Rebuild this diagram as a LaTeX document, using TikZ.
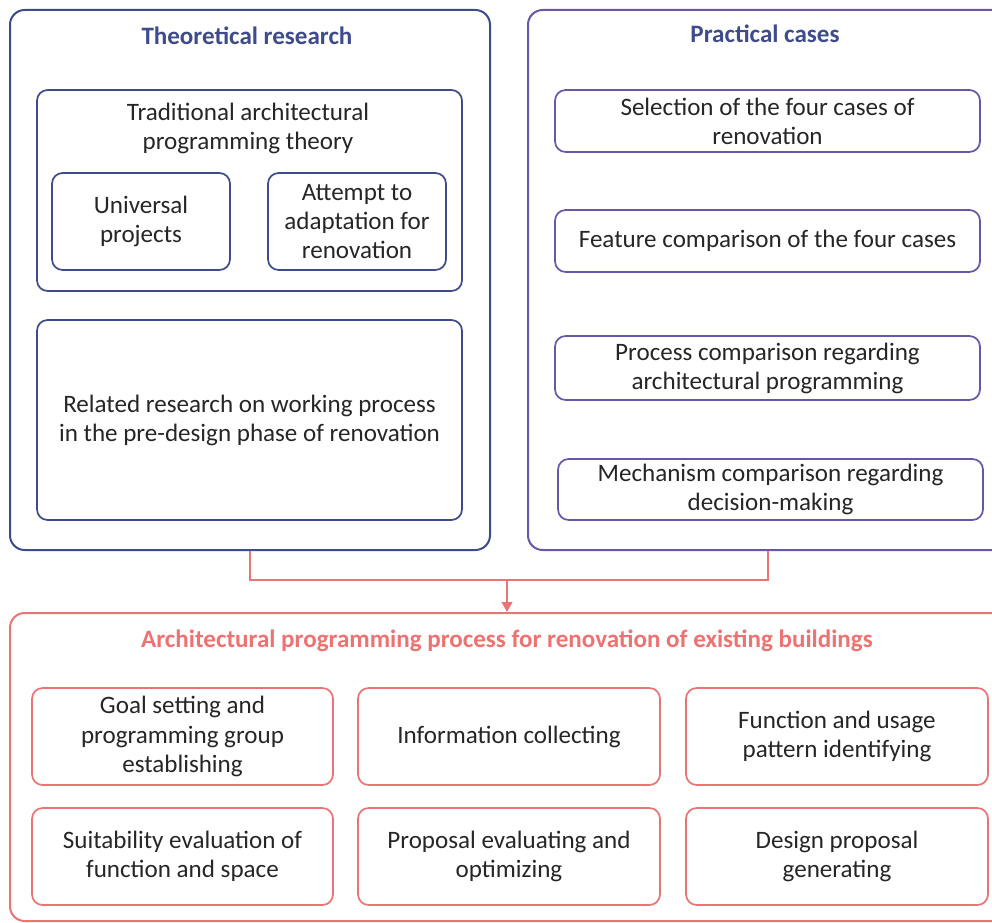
\documentclass[tikz,border=0pt]{standalone}
\usepackage{fontspec}
\setmainfont{Carlito}
\usetikzlibrary{arrows.meta}
\definecolor{theoblue}{HTML}{3F4C8C}
\definecolor{casepurple}{HTML}{6A56A8}
\definecolor{procred}{HTML}{E87476}
\definecolor{proctitle}{HTML}{EE7272}
\tikzset{
  px/.style 2 args={minimum width=#1*0.75pt, minimum height=#2*0.75pt},
  frame/.style={draw, line width=1.5pt, rounded corners=11pt, inner sep=0pt},
  subbox/.style={draw, line width=1.3pt, rounded corners=8pt, inner sep=0pt,
    align=center, font=\fontsize{18.8}{21.8}\selectfont, text=black!85},
  label/.style={align=center, font=\fontsize{18.8}{21.8}\selectfont, text=black!85},
  heading/.style={font=\fontsize{18.8}{21.8}\selectfont\bfseries},
  link/.style={draw=procred, line width=1.3pt},
}
\begin{document}
\begin{tikzpicture}[x=0.75pt, y=-0.75pt]
\useasboundingbox (0,0) rectangle (992,923);

% Theoretical research column
\node[frame, draw=theoblue, px={480}{540}] (theo) at (250,280) {};
\node[heading, text=theoblue] (theoT) at (247,36) {Theoretical research};
\node[subbox, draw=theoblue, px={425}{201}] (trad) at (249.5,190.5) {};
\node[label] (tradT) at (248,128.5) {Traditional architectural\\programming theory};
\node[subbox, draw=theoblue, px={178}{97}] (univ) at (141,221.5) {Universal\\projects};
\node[subbox, draw=theoblue, px={178}{97}] (adapt) at (357,221.5) {Attempt to\\adaptation for\\renovation};
\node[subbox, draw=theoblue, px={425}{200}] (rel) at (249.5,420) {Related research on working process\\in the pre-design phase of renovation};

% Practical cases column
\node[frame, draw=casepurple, px={480}{540}] (prac) at (768,280) {};
\node[heading, text=theoblue] (pracT) at (765,34) {Practical cases};
\node[subbox, draw=casepurple, px={425}{62}] (c1) at (767.5,121) {Selection of the four cases of\\renovation};
\node[subbox, draw=casepurple, px={425}{62}] (c2) at (767.5,241) {Feature comparison of the four cases};
\node[subbox, draw=casepurple, px={425}{64}] (c3) at (767.5,368) {Process comparison regarding\\architectural programming};
\node[subbox, draw=casepurple, px={425}{61}] (c4) at (770.5,489.5) {Mechanism comparison regarding\\decision-making};

% Programming process block
\node[frame, draw=procred, px={1000}{308}] (proc) at (510,767) {};
\node[heading, text=proctitle] (procT) at (507,641) {Architectural programming process for renovation of existing buildings};
\node[subbox, draw=procred, px={301}{97}] (p1) at (182.5,736.5) {Goal setting and\\programming group\\establishing};
\node[subbox, draw=procred, px={302}{97}] (p2) at (509,736.5) {Information collecting};
\node[subbox, draw=procred, px={302}{97}] (p3) at (837,736.5) {Function and usage\\pattern identifying};
\node[subbox, draw=procred, px={301}{97}] (p4) at (182.5,856.5) {Suitability evaluation of\\function and space};
\node[subbox, draw=procred, px={302}{97}] (p5) at (509,856.5) {Proposal evaluating and\\optimizing};
\node[subbox, draw=procred, px={302}{97}] (p6) at (837,856.5) {Design proposal\\generating};

% Merging connector from both columns into the process block
\coordinate (jl) at (250,580);
\coordinate (jr) at (768,580);
\coordinate (jm) at (507,580);
\draw[link] (theo.south -| jl) -- (jl) -- (jr) -- (prac.south -| jr);
\draw[link, -{Triangle[length=7.5pt, width=8pt]}] (jm) -- (jm |- proc.north);
\end{tikzpicture}
\end{document}
